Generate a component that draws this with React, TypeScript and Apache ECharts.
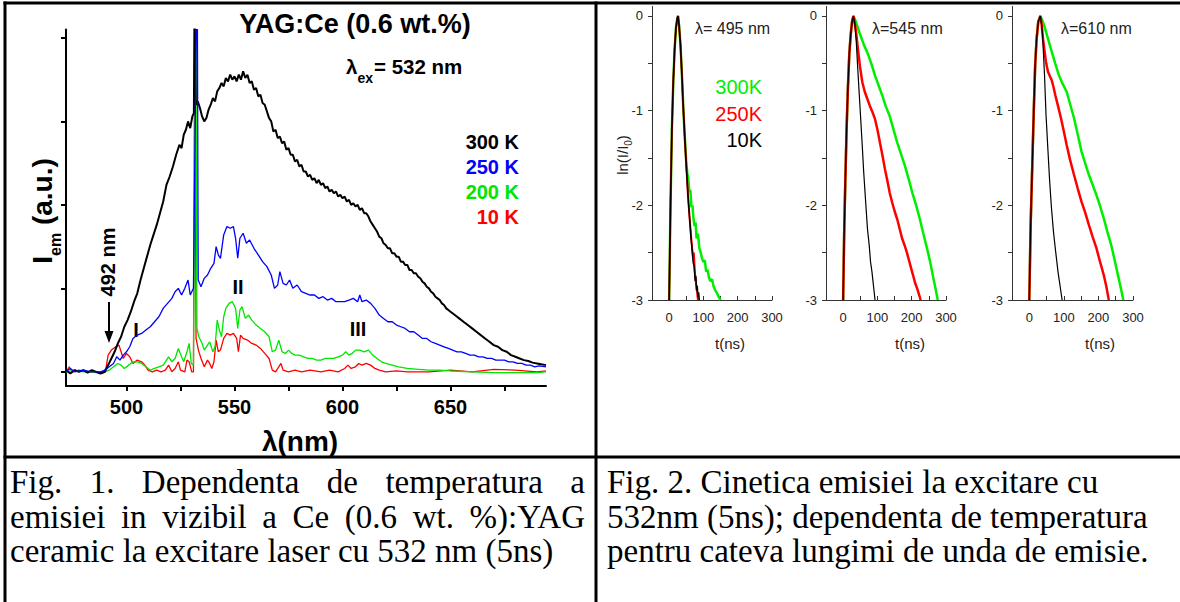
import React, { useEffect, useRef } from "react";
import * as echarts from "echarts";

// ---------------- Fig. 1 : emission spectra  [wavelength (nm), I_em (a.u.)]
const spec300K: [number, number][] = [
  [472, 0.01], [474, -0.01], [476, 0.01], [478, 0.0], [480, 0.01], [482, -0.005], [484, 0.01], [486, 0.0], [488, -0.01], [490, 0.0],
  [491.5, 0.04], [493, 0.08], [494.5, 0.12], [496, 0.17], [497.5, 0.21], [499, 0.27], [500.5, 0.31], [502, 0.36], [503.5, 0.42], [505, 0.47],
  [506.5, 0.55], [508, 0.62], [509.5, 0.69], [511, 0.76], [512.5, 0.82], [514, 0.88], [515.5, 0.95], [517, 1.02], [518.5, 1.12], [520, 1.17],
  [521.5, 1.23], [523, 1.3], [524.5, 1.36], [525.5, 1.34], [526.5, 1.42], [527.5, 1.45], [528.5, 1.5], [529.5, 1.46], [530.5, 1.53], [531.2, 1.55],
  [531.5, 2.2], [531.8, 2.2], [532.1, 1.6],
  [533, 1.62], [534, 1.58], [535, 1.53], [536, 1.5], [537, 1.52], [538, 1.57], [539, 1.6], [540, 1.64], [541, 1.62], [542, 1.68],
  [543, 1.7], [544, 1.73], [545, 1.71], [546, 1.76], [547, 1.74], [548, 1.78], [549, 1.75], [550, 1.77], [551, 1.74], [552, 1.78],
  [553, 1.75], [554, 1.8], [555, 1.76], [556, 1.78], [557, 1.73], [558, 1.74], [559, 1.69], [560, 1.7], [561, 1.65], [562, 1.66],
  [563, 1.61], [564, 1.6], [565, 1.56], [566, 1.52], [567, 1.5], [568, 1.44], [569, 1.45], [570, 1.4], [571, 1.41], [572, 1.37],
  [573, 1.38], [574, 1.33], [575, 1.34], [576, 1.3], [577, 1.3], [578, 1.26], [579, 1.27], [580, 1.23], [581, 1.24], [582, 1.2],
  [583, 1.2], [584, 1.17], [585, 1.18], [586, 1.15], [587, 1.16], [588, 1.13], [589, 1.15], [590, 1.12], [591, 1.13], [592, 1.1],
  [593, 1.11], [594, 1.08], [595, 1.09], [596, 1.07], [597, 1.08], [598, 1.05], [599, 1.06], [600, 1.04], [601, 1.05], [602, 1.02],
  [603, 1.03], [604, 1.0], [605, 1.01], [606, 0.99], [607, 1.0], [608, 0.97], [609, 0.98], [610, 0.95], [611, 0.95], [612, 0.93],
  [613, 0.9], [614, 0.88], [615, 0.86], [616, 0.84], [617, 0.81], [618, 0.8], [619, 0.77], [620, 0.76], [621, 0.74], [622, 0.74],
  [623, 0.71], [624, 0.71], [625, 0.69], [626, 0.69], [627, 0.66], [628, 0.66], [629, 0.64], [630, 0.64], [631, 0.61], [632, 0.61],
  [633, 0.59], [634, 0.59], [635, 0.57], [636, 0.56], [637, 0.54], [638, 0.53], [639, 0.51], [640, 0.5], [641, 0.48], [642, 0.47],
  [643, 0.45], [644, 0.44], [645, 0.43], [646, 0.41], [647, 0.4], [648, 0.38], [649, 0.37], [650, 0.36], [652, 0.34], [654, 0.32],
  [656, 0.3], [658, 0.28], [660, 0.26], [662, 0.24], [664, 0.22], [666, 0.2], [668, 0.18], [670, 0.16], [672, 0.15], [674, 0.13],
  [676, 0.12], [678, 0.1], [680, 0.09], [682, 0.08], [684, 0.07], [686, 0.065], [688, 0.055], [690, 0.05], [692, 0.045], [694.2, 0.04],
];

const spec250K: [number, number][] = [
  [472, 0.0], [474, 0.02], [476, 0.0], [480, 0.01], [484, 0.0], [488, 0.0], [490, 0.01], [492, 0.03], [494, 0.05], [495.5, 0.09],
  [497, 0.07], [498.5, 0.1], [500, 0.12], [501.5, 0.15], [503, 0.2], [505, 0.22], [507, 0.23], [509, 0.25], [511, 0.27], [513, 0.3],
  [515, 0.33], [517, 0.38], [519, 0.41], [521, 0.44], [522.5, 0.48], [524, 0.5], [525.5, 0.46], [527, 0.5], [528.5, 0.55], [529.5, 0.46],
  [531, 0.5], [532.4, 2.2], [532.8, 2.2], [533.2, 0.55], [534.5, 0.51], [536, 0.56], [537.5, 0.58], [539, 0.62], [540.5, 0.65], [541.5, 0.75],
  [542.5, 0.7], [543.5, 0.68], [545, 0.82], [546.5, 0.87], [548, 0.86], [549.5, 0.87], [550.5, 0.8], [551.5, 0.68], [552.5, 0.8], [554, 0.83],
  [555.5, 0.77], [557, 0.79], [559, 0.74], [561, 0.7], [563, 0.66], [565, 0.63], [567, 0.58], [568.5, 0.5], [570, 0.52], [571, 0.6],
  [572.5, 0.53], [574, 0.52], [575.5, 0.55], [577, 0.5], [579, 0.52], [581, 0.48], [583, 0.47], [585, 0.46], [587, 0.46], [589, 0.44],
  [591, 0.45], [593, 0.43], [595, 0.44], [597, 0.42], [599, 0.42], [601, 0.42], [603, 0.43], [605, 0.44], [607, 0.42], [608, 0.46],
  [609, 0.42], [611, 0.43], [613, 0.41], [615, 0.38], [617, 0.34], [619, 0.32], [621, 0.3], [623, 0.3], [625, 0.28], [627, 0.27],
  [629, 0.26], [631, 0.24], [633, 0.24], [635, 0.22], [637, 0.2], [639, 0.2], [641, 0.18], [643, 0.17], [645, 0.16], [647, 0.15],
  [649, 0.14], [651, 0.13], [653, 0.12], [655, 0.12], [657, 0.11], [659, 0.1], [661, 0.1], [663, 0.09], [665, 0.09], [667, 0.08],
  [669, 0.08], [671, 0.07], [673, 0.07], [675, 0.07], [677, 0.06], [679, 0.06], [681, 0.05], [683, 0.05], [685, 0.04], [687, 0.04],
  [689, 0.03], [691, 0.035], [694.2, 0.03],
];

const spec200K: [number, number][] = [
  [472, 0.0], [476, 0.01], [480, 0.0], [484, 0.0], [488, -0.01], [490, 0.0], [492, 0.01], [494, 0.03], [496, 0.05], [497.5, 0.04],
  [499, 0.02], [501, 0.04], [503, 0.06], [505, 0.06], [507, 0.05], [509, 0.03], [511, 0.01], [513, 0.02], [515, 0.03], [517, 0.04],
  [518.5, 0.07], [519.5, 0.09], [521, 0.06], [522.5, 0.08], [524, 0.14], [525.5, 0.09], [526.5, 0.06], [528, 0.12], [529, 0.17], [530, 0.05],
  [531, 0.04], [532.1, 2.2], [532.3, 2.2], [532.6, 0.26], [533.5, 0.21], [535, 0.17], [536, 0.13], [537.5, 0.16], [538.5, 0.18], [540, 0.12],
  [541, 0.15], [542, 0.31], [543, 0.25], [544, 0.21], [545, 0.33], [546, 0.38], [547.5, 0.41], [549, 0.42], [550.5, 0.38], [551.5, 0.26],
  [552.5, 0.37], [553.5, 0.39], [555, 0.32], [556.5, 0.34], [558, 0.31], [560, 0.28], [562, 0.26], [564, 0.24], [566, 0.21], [567.5, 0.12],
  [569, 0.13], [570.5, 0.19], [572, 0.12], [573.5, 0.11], [575, 0.13], [576.5, 0.11], [578, 0.1], [580, 0.1], [582, 0.09], [584, 0.08],
  [586, 0.08], [588, 0.07], [590, 0.07], [592, 0.08], [594, 0.08], [596, 0.08], [598, 0.09], [600, 0.1], [601.5, 0.12], [603, 0.1],
  [604.5, 0.11], [606, 0.13], [608, 0.13], [610, 0.12], [612, 0.13], [614, 0.1], [616, 0.08], [618, 0.06], [620, 0.05], [623, 0.04],
  [626, 0.03], [630, 0.02], [635, 0.015], [640, 0.01], [645, 0.01], [650, 0.005], [660, 0.0], [670, -0.005], [680, -0.005], [690, -0.005],
  [694.2, 0.0],
];

const spec10K: [number, number][] = [
  [472, 0.0], [473.5, 0.03], [475, 0.0], [478, 0.01], [482, 0.0], [486, 0.0], [489, -0.005], [490.5, 0.02], [491.5, 0.1], [493, 0.13],
  [495, 0.15], [496.5, 0.16], [497.5, 0.12], [498.5, 0.08], [500, 0.11], [501.5, 0.09], [503, 0.05], [505, 0.07], [507, 0.06], [508.5, 0.04],
  [510, 0.01], [512, 0.0], [514, 0.01], [516, 0.0], [518, 0.01], [519.5, 0.04], [521, 0.0], [522.5, 0.02], [524, 0.06], [525, 0.01],
  [527, 0.0], [528, 0.07], [529, 0.06], [530.2, 0.0], [531, 0.0], [531.6, 2.2], [531.9, 2.2], [532.2, 0.2], [533.3, 0.13], [534.5, 0.08],
  [536, 0.03], [537.5, 0.07], [538.5, 0.05], [539.5, 0.02], [540.5, 0.06], [541.5, 0.19], [542.5, 0.12], [543.5, 0.13], [545, 0.2], [546.5, 0.23],
  [548, 0.22], [549.5, 0.23], [551, 0.2], [551.8, 0.12], [552.8, 0.22], [554, 0.2], [556, 0.19], [558, 0.17], [560, 0.16], [562, 0.14],
  [564, 0.11], [566, 0.08], [567.5, 0.01], [569, 0.0], [570.5, 0.03], [571.5, 0.05], [572.5, 0.01], [575, 0.0], [578, 0.01], [581, 0.0],
  [585, 0.01], [590, 0.0], [594, 0.01], [598, 0.0], [601, 0.02], [602.5, 0.04], [604, 0.02], [606, 0.03], [607.5, 0.05], [609, 0.04],
  [611, 0.05], [613, 0.04], [615, 0.02], [617, 0.01], [620, 0.0], [625, 0.005], [630, 0.0], [640, 0.0], [650, 0.01], [660, 0.0],
  [670, 0.015], [680, 0.01], [690, 0.0], [694.2, 0.005],
];

const specXTicks = [500, 525, 550, 575, 600, 625, 650, 675];
const specXLabels = [500, 550, 600, 650];
const specYTicks = [0, 0.5, 1, 1.5, 2];
const specLegend = ["300 K", "250 K", "200 K", "10 K"];
const specColors = ["#000000", "#0000ff", "#00e600", "#ff0000"];

// ---------------- Fig. 2 : decay kinetics  [t (ns), ln(I/I0)]
const decay495_300K: [number, number][] = [
  [0, -3], [4, -2.0], [8, -1.2], [12, -0.7], [16, -0.35], [20, -0.12], [24, -0.02], [26, 0], [29, -0.1], [33, -0.3],
  [37, -0.6], [41, -0.95], [45, -1.24], [50, -1.55], [53, -1.66], [56, -1.72], [59, -1.86], [62, -1.84], [65, -2.02], [68, -2.0],
  [71, -2.14], [74, -2.22], [77, -2.18], [80, -2.35], [84, -2.3], [88, -2.45], [92, -2.5], [96, -2.56], [100, -2.6], [104, -2.58],
  [108, -2.7], [112, -2.68], [116, -2.76], [120, -2.8], [125, -2.78], [130, -2.86], [135, -2.9], [140, -2.93], [145, -2.97], [150, -3],
];
const decay495_250K: [number, number][] = [
  [0, -3], [4, -2.0], [8, -1.2], [12, -0.7], [16, -0.35], [20, -0.12], [24, -0.02], [26, 0], [29, -0.1], [33, -0.3],
  [37, -0.6], [41, -0.95], [45, -1.24], [50, -1.58], [55, -1.9], [60, -2.15], [64, -2.33], [67, -2.45], [70, -2.55], [72, -2.5],
  [75, -2.7], [78, -2.82], [81, -2.9], [84, -3],
];
const decay495_10K: [number, number][] = [
  [0, -3], [4, -2.0], [8, -1.2], [12, -0.7], [16, -0.35], [20, -0.12], [24, -0.02], [26, 0], [29, -0.1], [33, -0.3],
  [37, -0.6], [41, -0.95], [45, -1.24], [50, -1.58], [55, -1.9], [60, -2.15], [64, -2.35], [67, -2.47], [70, -2.6], [73, -2.65],
  [76, -2.8], [78, -2.75], [80, -2.9], [82, -2.85], [84, -2.97], [86, -2.92], [88, -3],
];

const decay545_300K: [number, number][] = [
  [0, -3], [3, -2.3], [6, -1.8], [10, -1.2], [14, -0.75], [18, -0.4], [22, -0.2], [26, -0.06], [30, 0], [38, -0.07],
  [48, -0.18], [60, -0.3], [71, -0.39], [82, -0.5], [93, -0.63], [104, -0.74], [115, -0.85], [125, -0.96], [136, -1.06], [147, -1.2],
  [158, -1.34], [169, -1.46], [180, -1.58], [191, -1.72], [202, -1.87], [213, -2.0], [224, -2.15], [234, -2.3], [245, -2.46], [254, -2.6],
  [262, -2.75], [269, -2.87], [276, -3],
];
const decay545_250K: [number, number][] = [
  [0, -3], [3, -2.3], [6, -1.8], [10, -1.2], [14, -0.75], [18, -0.4], [22, -0.2], [26, -0.06], [30, 0], [34, -0.08],
  [38, -0.18], [44, -0.38], [49, -0.53], [56, -0.7], [63, -0.8], [71, -0.88], [78, -0.95], [86, -1.02], [93, -1.09], [100, -1.2],
  [108, -1.35], [115, -1.48], [122, -1.62], [129, -1.74], [136, -1.87], [143, -1.97], [150, -2.06], [158, -2.15], [165, -2.25], [172, -2.35],
  [180, -2.43], [186, -2.5], [192, -2.58], [198, -2.66], [204, -2.74], [210, -2.82], [216, -2.88], [222, -2.95], [226, -3],
];
const decay545_10K: [number, number][] = [
  [0, -3], [3, -2.3], [6, -1.8], [10, -1.2], [14, -0.75], [18, -0.4], [22, -0.2], [26, -0.06], [30, 0], [34, -0.08],
  [38, -0.25], [43, -0.58], [49, -0.95], [55, -1.32], [60, -1.65], [66, -1.98], [71, -2.25], [76, -2.42], [80, -2.6], [84, -2.7],
  [87, -2.8], [90, -2.9], [93, -3],
];

const decay610_300K: [number, number][] = [
  [0, -3], [4, -2.2], [8.6, -1.58], [13, -1.0], [17, -0.52], [21, -0.25], [26, -0.06], [32, 0], [37, -0.04], [43, -0.1],
  [54, -0.24], [65, -0.38], [75, -0.5], [86, -0.63], [97, -0.72], [108, -0.8], [118, -0.93], [129.5, -1.08], [140, -1.25], [151, -1.43],
  [162, -1.56], [172.6, -1.68], [183, -1.78], [194, -1.89], [205, -2.01], [215.7, -2.14], [226, -2.28], [237, -2.42], [247, -2.58], [256.6, -2.74],
  [264, -2.86], [272, -3],
];
const decay610_250K: [number, number][] = [
  [0, -3], [4, -2.2], [8.6, -1.58], [13, -1.0], [17, -0.52], [21, -0.25], [26, -0.06], [32, 0], [36, -0.1], [40, -0.25],
  [43, -0.34], [48, -0.48], [54, -0.59], [60, -0.64], [65, -0.68], [70, -0.75], [75.5, -0.84], [83, -0.95], [91.7, -1.08], [100, -1.22],
  [108, -1.36], [118, -1.52], [129.5, -1.68], [140, -1.82], [151, -1.96], [162, -2.08], [172.6, -2.21], [183, -2.33], [194, -2.45], [205, -2.6],
  [215.7, -2.74], [223, -2.86], [230, -3],
];
const decay610_10K: [number, number][] = [
  [0, -3], [4, -2.2], [8.6, -1.58], [13, -1.0], [17, -0.52], [21, -0.25], [26, -0.06], [32, 0], [36, -0.1], [39, -0.24],
  [44, -0.62], [48.5, -1.05], [54, -1.42], [59, -1.75], [64, -2.02], [70, -2.28], [76, -2.48], [83, -2.7], [87, -2.8], [91, -2.9],
  [95, -3],
];

const decayTitles = ["λ= 495 nm", "λ=545 nm", "λ=610 nm"];
const decayLegend = ["300K", "250K", "10K"];
const decayColors = ["#00ee00", "#ff0000", "#000000"];
const decayXTicks = [0, 50, 100, 150, 200, 250, 300];
const decayXLabels = [0, 100, 200, 300];
const decayYTicks = [-3, -2.5, -2, -1.5, -1, -0.5, 0];
const decayYLabels = [-3, -2, -1, 0];

const caption1 = [
  "Fig. 1. Dependenta de temperatura a",
  "emisiei in vizibil a Ce (0.6 wt. %):YAG",
  "ceramic la excitare laser cu 532 nm (5ns)",
];
const caption2 = [
  "Fig. 2. Cinetica emisiei la excitare cu",
  "532nm (5ns); dependenta de temperatura",
  "pentru cateva lungimi de unda de emisie.",
];

const SANS = '"Liberation Sans", Arial, sans-serif';
const SERIF = '"Liberation Serif", "Times New Roman", serif';

function txt(x: number, y: number, text: string, o: any = {}, extra: any = {}) {
  const align = o.align || "left";
  const va = o.va || "middle";
  return {
    type: "text",
    x,
    y,
    silent: true,
    ...extra,
    style: {
      text,
      fill: o.color || "#000",
      fontSize: o.size || 14,
      fontWeight: o.weight || "normal",
      fontFamily: o.family || SANS,
      align,
      textAlign: align,
      verticalAlign: va,
      textVerticalAlign: va,
      rich: o.rich,
    },
  };
}

function buildOption() {
  const graphic: any[] = [];
  // table borders
  const bl = (x1: number, y1: number, x2: number, y2: number) =>
    graphic.push({ type: "line", silent: true, shape: { x1, y1, x2, y2 }, style: { stroke: "#000", lineWidth: 3 } });
  bl(3.5, 3, 1180, 3);
  bl(5, 1.5, 5, 602);
  bl(596, 1.5, 596, 602);
  bl(3.5, 457, 1180, 457);

  // ---- Fig.1 annotations
  graphic.push(txt(355, 24, "YAG:Ce (0.6 wt.%)", { size: 27, weight: "bold", align: "center" }));
  graphic.push(
    txt(346, 66, "{a|λ}{s|ex}{a|= 532 nm}", {
      rich: {
        a: { fontSize: 20.5, fontWeight: "bold", fontFamily: SANS, fill: "#000", lineHeight: 22 },
        s: { fontSize: 14, fontWeight: "bold", fontFamily: SANS, fill: "#000", verticalAlign: "bottom", lineHeight: 14, padding: [0, 1, -8, 0] },
      },
    })
  );
  const legY = [142, 167, 192, 217];
  specLegend.forEach((l, i) => graphic.push(txt(519, legY[i], l, { size: 20, weight: "bold", align: "right", color: specColors[i] })));
  graphic.push(
    txt(42, 211, "{b|I}{s|em}{b| (a.u.)}", {
      align: "center",
      rich: {
        b: { fontSize: 28, fontWeight: "bold", fontFamily: SANS, fill: "#000", lineHeight: 30 },
        s: { fontSize: 16, fontWeight: "bold", fontFamily: SANS, fill: "#000", verticalAlign: "bottom", lineHeight: 16, padding: [0, 0, -6, 0] },
      },
    }, { rotation: Math.PI / 2 })
  );
  graphic.push(txt(108, 262, "492 nm", { size: 20, weight: "bold", align: "center" }, { rotation: Math.PI / 2 }));
  graphic.push({ type: "line", silent: true, shape: { x1: 109, y1: 302, x2: 109, y2: 334 }, style: { stroke: "#000", lineWidth: 2 } });
  graphic.push({ type: "polygon", silent: true, shape: { points: [[104.5, 331], [113.5, 331], [109, 343]] }, style: { fill: "#000" } });
  graphic.push(txt(136, 330, "I", { size: 20, weight: "bold", align: "center" }));
  graphic.push(txt(238, 287, "II", { size: 20, weight: "bold", align: "center" }));
  graphic.push(txt(358, 329, "III", { size: 20, weight: "bold", align: "center" }));
  graphic.push(txt(300, 441, "λ(nm)", { size: 28, weight: "bold", align: "center" }));

  // ---- Fig.2 annotations
  const titleX = [695, 872, 1061];
  decayTitles.forEach((t, i) => graphic.push(txt(titleX[i], 28, t, { size: 16, color: "#222" })));
  const dlY = [87, 114, 140];
  decayLegend.forEach((l, i) => graphic.push(txt(762, dlY[i], l, { size: 20, align: "right", color: decayColors[i] })));
  graphic.push(
    txt(622, 155, "{a|ln(I/I}{s|0}{a|)}", {
      align: "center",
      rich: {
        a: { fontSize: 15, fontFamily: SANS, fill: "#222", lineHeight: 16 },
        s: { fontSize: 10, fontFamily: SANS, fill: "#222", verticalAlign: "bottom", lineHeight: 10, padding: [0, 0, -3, 0] },
      },
    }, { rotation: Math.PI / 2 })
  );
  const tX = [730, 910, 1100];
  tX.forEach((x) => graphic.push(txt(x, 343, "t(ns)", { size: 15, align: "center", color: "#222" })));

  // ---- captions
  const canvas = document.createElement("canvas");
  const ctx = canvas.getContext("2d")!;
  const capSize = 33;
  ctx.font = `${capSize}px "Liberation Serif"`;
  const rowY = [482, 516.5, 551];
  const justify = (line: string, x0: number, x1: number, y: number) => {
    const words = line.split(" ");
    const widths = words.map((w) => ctx.measureText(w).width);
    const total = widths.reduce((a, b) => a + b, 0);
    const gap = (x1 - x0 - total) / (words.length - 1);
    let x = x0;
    words.forEach((w, i) => {
      graphic.push(txt(x, y, w, { size: capSize, family: SERIF }));
      x += widths[i] + gap;
    });
  };
  justify(caption1[0], 10, 585, rowY[0]);
  justify(caption1[1], 10, 585, rowY[1]);
  graphic.push(txt(10, rowY[2], caption1[2], { size: capSize, family: SERIF }));
  caption2.forEach((l, i) => graphic.push(txt(607, rowY[i], l, { size: capSize, family: SERIF })));

  // ---- grids / axes
  const grid: any[] = [
    { left: 66, top: 29.6, width: 480, height: 356.4 },
    { left: 652, top: 6.5, width: 120, height: 293.5 },
    { left: 826, top: 6.5, width: 120, height: 293.5 },
    { left: 1012, top: 6.5, width: 121, height: 293.5 },
  ];
  const xAxis: any[] = [
    {
      type: "value", gridIndex: 0, min: 472, max: 694.2,
      axisLine: { show: true, onZero: false, lineStyle: { color: "#000", width: 2 } },
      axisTick: { show: true, customValues: specXTicks, length: 5, lineStyle: { color: "#000", width: 2 } },
      axisLabel: { show: true, customValues: specXLabels, fontSize: 20, fontWeight: "bold", fontFamily: SANS, color: "#000", margin: 11 },
      splitLine: { show: false },
    },
  ];
  const yAxis: any[] = [
    {
      type: "value", gridIndex: 0, min: -0.085, max: 2.05,
      axisLine: { show: true, onZero: false, lineStyle: { color: "#000", width: 2 } },
      axisTick: { show: true, customValues: specYTicks, length: 5, lineStyle: { color: "#000", width: 2 } },
      axisLabel: { show: false },
      splitLine: { show: false },
    },
  ];
  for (let g = 1; g <= 3; g++) {
    xAxis.push({
      type: "value", gridIndex: g, min: -50, max: 300,
      axisLine: { show: true, onZero: false, lineStyle: { color: "#333", width: 1 } },
      axisTick: { show: true, inside: true, customValues: decayXTicks, length: 4, lineStyle: { color: "#333" } },
      axisLabel: { show: true, customValues: decayXLabels, fontSize: 13, fontFamily: SANS, color: "#222", margin: 11 },
      splitLine: { show: false },
    });
    yAxis.push({
      type: "value", gridIndex: g, min: -3, max: 0.1,
      axisLine: { show: true, onZero: false, lineStyle: { color: "#333", width: 1 } },
      axisTick: { show: true, customValues: decayYTicks, length: 4, lineStyle: { color: "#333" } },
      axisLabel: { show: true, customValues: decayYLabels, fontSize: 13, fontFamily: SANS, color: "#222", margin: 9 },
      splitLine: { show: false },
    });
  }

  const line = (data: [number, number][], idx: number, color: string, width: number) => ({
    type: "line", xAxisIndex: idx, yAxisIndex: idx, data, showSymbol: false, symbol: "none",
    lineStyle: { color, width }, clip: true, silent: true, z: 2,
  });
  const series: any[] = [
    line(spec10K, 0, specColors[3], 1.3),
    line(spec200K, 0, specColors[2], 1.3),
    line(spec300K, 0, specColors[0], 2),
    line(spec250K, 0, specColors[1], 1.3),
    line(decay495_300K, 1, decayColors[0], 2.5),
    line(decay495_250K, 1, decayColors[1], 2),
    line(decay495_10K, 1, decayColors[2], 1.5),
    line(decay545_300K, 2, decayColors[0], 2.5),
    line(decay545_250K, 2, decayColors[1], 2.5),
    line(decay545_10K, 2, decayColors[2], 1.2),
    line(decay610_300K, 3, decayColors[0], 2.5),
    line(decay610_250K, 3, decayColors[1], 2.5),
    line(decay610_10K, 3, decayColors[2], 1.2),
  ];

  return { animation: false, backgroundColor: "#fff", grid, xAxis, yAxis, series, graphic };
}

export default function App() {
  const ref = useRef<HTMLDivElement>(null);
  useEffect(() => {
    document.body.style.margin = "0";
    if (!ref.current) return;
    const chart = echarts.init(ref.current, undefined, { renderer: "svg" });
    chart.setOption(buildOption());
    return () => chart.dispose();
  }, []);
  return <div ref={ref} style={{ width: 1180, height: 602 }} />;
}
